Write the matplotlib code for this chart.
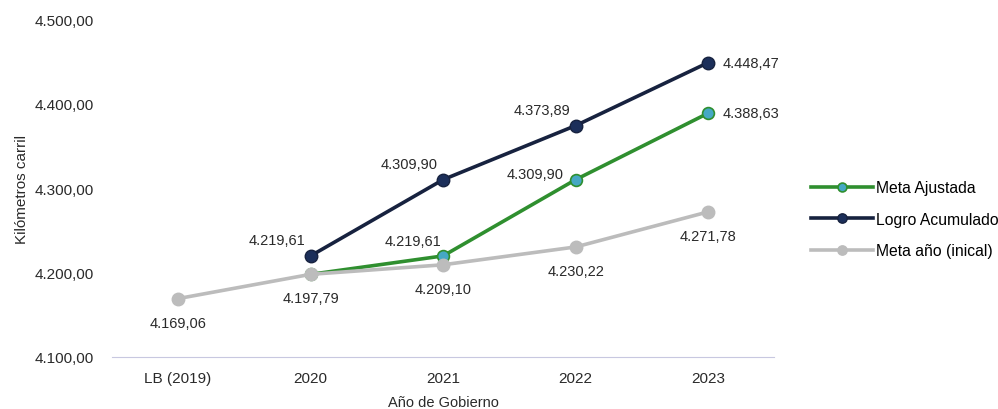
import numpy as np
import matplotlib.pyplot as plt
from matplotlib.ticker import FuncFormatter

plt.rcParams['font.family'] = ['Liberation Sans', 'DejaVu Sans']

# Datos
categorias = ['LB (2019)', '2020', '2021', '2022', '2023']
meta_ajustada = [np.nan, 4197.79, 4219.61, 4309.90, 4388.63]
logro_acumulado = [np.nan, 4219.61, 4309.90, 4373.89, 4448.47]
meta_inicial = [4169.06, 4197.79, 4209.10, 4230.22, 4271.78]

def fmt(v):
    s = f"{v:,.2f}"
    return s.replace(',', 'X').replace('.', ',').replace('X', '.')

fig = plt.figure(figsize=(9.98, 4.10), dpi=100)
ax = fig.add_axes([0.112, 0.127, 0.664, 0.824])

x = np.arange(len(categorias))
c_verde = '#2f8f2f'
c_azul = '#17223f'
c_gris = '#bcbcbc'

ax.plot(x, meta_ajustada, color=c_verde, lw=2.6, marker='o', ms=8.5,
        mfc='#45a8c4', mec=c_verde, mew=1.2, label='Meta Ajustada', zorder=3)
ax.plot(x, logro_acumulado, color=c_azul, lw=2.6, marker='o', ms=9,
        mfc='#1c2f5a', mec=c_azul, label='Logro Acumulado', zorder=3)
ax.plot(x, meta_inicial, color=c_gris, lw=2.6, marker='o', ms=9,
        mfc=c_gris, mec=c_gris, label='Meta año (inical)', zorder=4)

txt = dict(fontsize=10.5, color='#2a2a2a', textcoords='offset pixels')
# etiquetas logro acumulado
for i in [1, 2, 3]:
    ax.annotate(fmt(logro_acumulado[i]), (x[i], logro_acumulado[i]),
                xytext=(-34, 16), ha='center', va='center', **txt)
ax.annotate(fmt(logro_acumulado[4]), (x[4], logro_acumulado[4]),
            xytext=(14, 0), ha='left', va='center', **txt)
# etiquetas meta ajustada
ax.annotate(fmt(meta_ajustada[2]), (x[2], meta_ajustada[2]),
            xytext=(-30, 15), ha='center', va='center', **txt)
ax.annotate(fmt(meta_ajustada[3]), (x[3], meta_ajustada[3]),
            xytext=(-12, 6), ha='right', va='center', **txt)
ax.annotate(fmt(meta_ajustada[4]), (x[4], meta_ajustada[4]),
            xytext=(14, 0), ha='left', va='center', **txt)
# etiquetas meta inicial
for i in range(5):
    ax.annotate(fmt(meta_inicial[i]), (x[i], meta_inicial[i]),
                xytext=(0, -24), ha='center', va='center', **txt)

ax.set_xlim(-0.5, 4.5)
ax.set_ylim(4100, 4500)
ax.set_yticks([4100, 4200, 4300, 4400, 4500])
ax.yaxis.set_major_formatter(FuncFormatter(lambda v, p: fmt(v)))
ax.set_xticks(x)
ax.set_xticklabels(categorias)
ax.tick_params(length=0, labelsize=11, colors='#2a2a2a')
ax.tick_params(axis='x', pad=10)
ax.tick_params(axis='y', pad=13)

for s in ['top', 'right', 'left']:
    ax.spines[s].set_visible(False)
ax.spines['bottom'].set_color('#c8c8e0')

ax.set_ylabel('Kilómetros carril', fontsize=11, color='#2a2a2a', labelpad=4)
ax.set_xlabel('Año de Gobierno', fontsize=10.5, color='#2a2a2a', labelpad=7)

fig.legend(loc='center left', bbox_to_anchor=(0.798, 0.463), frameon=False,
           fontsize=11.3, handlelength=4.0, labelspacing=1.05, handletextpad=0.2,
           markerscale=0.75)

fig.savefig('out.png', dpi=100)
